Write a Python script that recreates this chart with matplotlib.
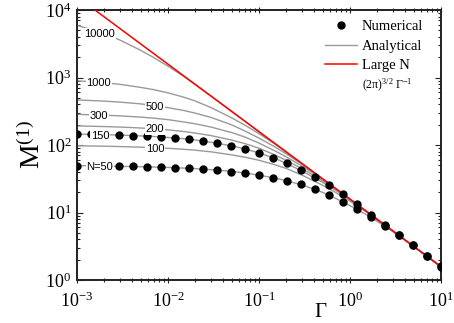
import matplotlib
matplotlib.use('Agg')
import matplotlib.pyplot as plt
from matplotlib.ticker import LogLocator, NullFormatter, FixedLocator
from matplotlib.lines import Line2D

plt.rcParams['font.family'] = ['Liberation Serif', 'DejaVu Serif']
plt.rcParams['mathtext.fontset'] = 'custom'
plt.rcParams['mathtext.rm'] = 'Liberation Serif'
plt.rcParams['mathtext.it'] = 'Liberation Serif:italic'
plt.rcParams['mathtext.bf'] = 'Liberation Serif:bold'
plt.rcParams['mathtext.default'] = 'regular'

# ---------------- data ----------------
gamma_num = [0.001, 0.001425, 0.002031, 0.002894, 0.004125, 0.005878, 0.008377,
             0.01194, 0.01701, 0.02424, 0.03455, 0.04924, 0.07017, 0.1, 0.1425,
             0.2031, 0.2894, 0.4125, 0.5878, 0.8377, 1.194, 1.701, 2.424, 3.455,
             4.924, 7.017, 10.0]
num_n50 = [49.7, 49.5, 49.3, 48.9, 48.4, 47.7, 46.7, 45.6, 44.9, 44.1, 42.2, 40.5,
           38.5, 35.7, 32.8, 29.6, 26.0, 22.3, 18.35, 14.55, 11.27, 8.64, 6.40,
           4.59, 3.26, 2.28, 1.585]
num_n150 = [145.5, 145.5, 143.0, 139.2, 137.3, 134.6, 130.1, 125.7, 121.5, 114.6,
            106.0, 96.7, 86.4, 75.3, 64.9, 53.6, 43.1, 33.2, 25.3, 18.6, 13.36,
            9.34, 6.53, 4.64, 3.27, 2.27, 1.61]

gamma_an = [0.001, 0.002, 0.003, 0.005, 0.007, 0.01, 0.015, 0.02, 0.03, 0.05, 0.07,
            0.1, 0.15, 0.2, 0.3, 0.5, 0.7, 1, 1.5, 2, 3, 5, 7, 10]
an_50 = [49.6, 48.8, 48.3, 47.7, 47.2, 46.5, 45.5, 44.7, 43.1, 40.7, 38.5, 35.7,
         32.4, 29.6, 25.5, 19.9, 16.1, 12.65, 9.35, 7.36, 5.15, 3.14, 2.25, 1.575]
an_100 = [97.6, 96.0, 94.8, 92.9, 91.4, 89.4, 86.3, 83.8, 79.1, 71.4, 66.1, 59.3,
          51.0, 44.8, 35.6, 25.3, 19.7, 14.73, 10.30, 7.81, 5.25, 3.15, 2.25, 1.575]
an_150 = [145.0, 142.2, 140.1, 136.6, 133.6, 129.4, 123.8, 118.7, 109.7, 97.2, 87.5,
          76.5, 63.4, 53.4, 40.8, 28.0, 21.2, 15.45, 10.45, 7.875, 5.25, 3.15, 2.25,
          1.575]
an_200 = [191.9, 187.6, 184.4, 178.8, 173.8, 167.5, 158.3, 150.1, 137.4, 118.5, 105.0,
          89.7, 71.2, 59.0, 44.3, 29.45, 21.94, 15.62, 10.5, 7.875, 5.25, 3.15, 2.25,
          1.575]
an_300 = [284.4, 276.6, 270.2, 258.9, 249.8, 237.4, 219.3, 206.1, 183.8, 153.1, 131.4,
          106.8, 81.7, 66.5, 48.3, 30.9, 22.35, 15.75, 10.5, 7.875, 5.25, 3.15, 2.25,
          1.575]
an_500 = [465.0, 447.1, 431.4, 406.9, 385.2, 357.1, 324.2, 296.3, 255.1, 199.1, 161.1,
          126.5, 93.5, 73.6, 51.5, 31.4, 22.5, 15.75, 10.5, 7.875, 5.25, 3.15, 2.25,
          1.575]
an_1000 = [894.2, 837.6, 791.3, 714.2, 660.6, 592.6, 510.2, 448.4, 356.0, 252.9, 197.1,
           147.3, 103.0, 78.1, 52.5, 31.5, 22.5, 15.75, 10.5, 7.875, 5.25, 3.15, 2.25,
           1.575]
an_10000 = [5926, 4485, 3560, 2529, 1971, 1473, 1030, 781, 525, 315, 225, 157.5, 105,
            78.75, 52.5, 31.5, 22.5, 15.75, 10.5, 7.875, 5.25, 3.15, 2.25, 1.575]
analytical = [an_50, an_100, an_150, an_200, an_300, an_500, an_1000, an_10000]

large_n_gamma = [0.001, 10.0]
large_n_vals = [15750.0, 1.575]

curve_labels = ['10000', '1000', '500', '300', '200', '150', '100', 'N=50']
label_pos = [(0.063, 0.911), (0.060, 0.730), (0.214, 0.641), (0.060, 0.607),
             (0.214, 0.559), (0.063, 0.533), (0.214, 0.487), (0.063, 0.420)]

xtick_vals = [1e-3, 1e-2, 1e-1, 1e0, 1e1]
xtick_labels = [r'$10^{-3}$', r'$10^{-2}$', r'$10^{-1}$', r'$10^{0}$', r'$10^{1}$']
ytick_vals = [1e0, 1e1, 1e2, 1e3, 1e4]
ytick_labels = [r'$10^{0}$', r'$10^{1}$', r'$10^{2}$', r'$10^{3}$', r'$10^{4}$']

# ---------------- figure ----------------
fig = plt.figure(figsize=(4.54, 3.23), dpi=100)
ax = fig.add_axes([0.1696, 0.1331, 0.8018, 0.8359])

gray = '#999999'
for vals in analytical:
    ax.plot(gamma_an, vals, color=gray, lw=1.0, zorder=2, solid_joinstyle='round')
ax.plot(large_n_gamma, large_n_vals, color='#ff0000', lw=1.1, zorder=3)
ax.plot(gamma_num, num_n50, 'o', color='black', ms=5.0, zorder=4)
ax.plot(gamma_num, num_n150, 'o', color='black', ms=5.0, zorder=4)

for txt, (fx, fy) in zip(curve_labels, label_pos):
    ax.text(fx, fy, txt, transform=ax.transAxes, ha='center', va='center',
            fontsize=8, family='Liberation Sans', zorder=6,
            bbox=dict(fc='white', ec='none', pad=0.5))

ax.set_xscale('log')
ax.set_yscale('log')
ax.set_xlim(1e-3, 10)
ax.set_ylim(1, 1e4)

ax.xaxis.set_major_locator(FixedLocator(xtick_vals))
ax.set_xticklabels(xtick_labels)
ax.yaxis.set_major_locator(FixedLocator(ytick_vals))
ax.set_yticklabels(ytick_labels)
for a in (ax.xaxis, ax.yaxis):
    a.set_minor_locator(LogLocator(base=10, subs=range(2, 10), numticks=20))
    a.set_minor_formatter(NullFormatter())

ax.tick_params(which='both', direction='in', top=True, right=True,
               labelsize=13, width=0.8, color='#222222')
ax.tick_params(axis='x', which='both', bottom=True, direction='inout')
ax.tick_params(axis='y', pad=4)
ax.tick_params(axis='x', pad=6)
ax.tick_params(which='major', length=4)
ax.tick_params(which='minor', length=2.2)
for sp in ax.spines.values():
    sp.set_linewidth(1.4)
    sp.set_color('#222222')

ax.set_ylabel(r'$M^{(1)}$', fontsize=20)
ax.yaxis.set_label_coords(-0.085, 0.5)
ax.set_xlabel(r'$\Gamma$', fontsize=15)
ax.xaxis.set_label_coords(0.668, -0.085)

handles = [Line2D([], [], ls='none', marker='o', color='black', ms=5.0),
           Line2D([], [], color=gray, lw=1.0),
           Line2D([], [], color='#ff0000', lw=1.1)]
leg = ax.legend(handles, ['Numerical', 'Analytical', 'Large N'],
                loc='upper left', bbox_to_anchor=(0.681, 0.962), frameon=False,
                fontsize=10.5, handlelength=2.2, handletextpad=0.35,
                labelspacing=0.42, borderpad=0, borderaxespad=0)
ax.text(0.783, 0.722, r'$(2\pi)^{3/2}\ \Gamma^{-1}$', transform=ax.transAxes,
        ha='left', va='center', fontsize=8.5)

fig.savefig('out.png', dpi=100)
